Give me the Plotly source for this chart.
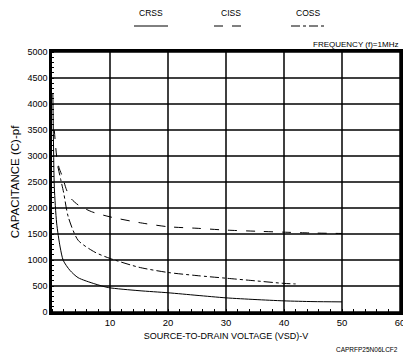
import plotly.graph_objects as go

# Data
crss_x = [0.15, 0.25, 0.4, 0.8, 1.4, 1.95, 3.1, 4.5, 7.4, 9.7, 15, 20, 25, 30, 35, 40, 45, 50]
crss_y = [4200, 3300, 2400, 1710, 1250, 990, 800, 660, 540, 470, 410, 370, 320, 272, 240, 214, 200, 195]

ciss_x = [0.4, 0.8, 1.2, 1.8, 2.5, 3.3, 4.5, 6.8, 10, 15, 20, 25, 30, 36, 40, 44.5, 50]
ciss_y = [3500, 3000, 2780, 2600, 2350, 2180, 2060, 1930, 1830, 1720, 1640, 1610, 1575, 1550, 1535, 1520, 1510]

coss_x = [1.0, 1.5, 2.0, 2.8, 4.5, 7.4, 10, 15, 20, 25, 30, 35, 40, 42]
coss_y = [2800, 2550, 2300, 1830, 1380, 1150, 1030, 860, 760, 700, 650, 600, 550, 540]

x_ticks = [10, 20, 30, 40, 50, 60]
y_ticks = list(range(0, 5001, 500))

legend_names = ["CRSS", "CISS", "COSS"]

FONT = "Liberation Sans, Arial, sans-serif"
INK = "#000000"
T, B = 52, 46
PH = 358 - T - B

fig = go.Figure()
fig.add_trace(go.Scatter(x=crss_x, y=crss_y, mode="lines", name="CRSS",
                         line=dict(color=INK, width=1, dash="solid", shape="spline", smoothing=0.7)))
fig.add_trace(go.Scatter(x=ciss_x, y=ciss_y, mode="lines", name="CISS",
                         line=dict(color=INK, width=1, dash="dash", shape="spline", smoothing=0.7)))
fig.add_trace(go.Scatter(x=coss_x, y=coss_y, mode="lines", name="COSS",
                         line=dict(color=INK, width=1, dash="dashdot", shape="spline", smoothing=0.7)))

fig.update_layout(
    width=403, height=358,
    margin=dict(l=52, r=3, t=T, b=B, autoexpand=False),
    paper_bgcolor="white", plot_bgcolor="white",
    showlegend=False,
    font=dict(family=FONT, size=9, color=INK),
)

fig.update_xaxes(
    range=[0, 60], tickvals=x_ticks, ticktext=[str(v) for v in x_ticks],
    showgrid=False,
    showline=True, linecolor=INK, linewidth=2.5, mirror=True,
    ticks="", zeroline=False, automargin=False, ticklabeloverflow="allow",
    minor=dict(dtick=2, ticks="inside", ticklen=3, tickcolor=INK, tickwidth=1),
    tickfont=dict(size=9.5, family=FONT),
    title=dict(text="SOURCE-TO-DRAIN VOLTAGE (VSD)-V", font=dict(size=9, family=FONT), standoff=6),
)
fig.update_yaxes(
    range=[0, 5000], tickvals=y_ticks, ticktext=[str(v) for v in y_ticks],
    showgrid=False,
    showline=True, linecolor=INK, linewidth=2.5, mirror=True,
    ticks="", zeroline=False, automargin=False,
    minor=dict(dtick=100, ticks="inside", ticklen=2, tickcolor=INK, tickwidth=1),
    tickfont=dict(size=9, family=FONT),
    title=dict(text="CAPACITANCE (C)-pf", font=dict(size=11.5, family=FONT), standoff=6),
)

# Grid lines at the tick positions (drawn beneath the curves)
for v in x_ticks:
    fig.add_shape(type="line", xref="x", yref="paper", x0=v, x1=v, y0=0, y1=1,
                  line=dict(color=INK, width=1.5), layer="below")
for v in y_ticks:
    fig.add_shape(type="line", xref="x", yref="y", x0=0, x1=60, y0=v, y1=v,
                  line=dict(color=INK, width=1.5), layer="below")

# Legend: name above a sample line
legend_x = [151, 231, 308]
dashes = ["solid", "dash", "dashdot"]
for name, px, d in zip(legend_names, legend_x, dashes):
    fig.add_annotation(text=name, xref="paper", yref="paper",
                       x=(px - 52) / 348, y=1 + (T - 13) / PH,
                       showarrow=False, font=dict(size=8.5, family=FONT),
                       xanchor="center", yanchor="middle")
    fig.add_shape(type="line", xref="paper", yref="paper",
                  x0=(px - 17 - 52) / 348, x1=(px + 17 - 52) / 348,
                  y0=1 + (T - 26) / PH, y1=1 + (T - 26) / PH,
                  line=dict(color=INK, width=1, dash=d))

fig.add_annotation(text="FREQUENCY (f)=1MHz", xref="paper", yref="paper",
                   x=1.0, y=1 + (T - 44) / PH, xanchor="right", yanchor="middle",
                   showarrow=False, font=dict(size=8, family=FONT))
fig.add_annotation(text="CAPRFP25N06LCF2", xref="paper", yref="paper",
                   x=1.0, y=-(349 - (358 - B)) / PH, xanchor="right", yanchor="middle",
                   showarrow=False, font=dict(size=6.5, family=FONT))

fig.write_html("out.html")
